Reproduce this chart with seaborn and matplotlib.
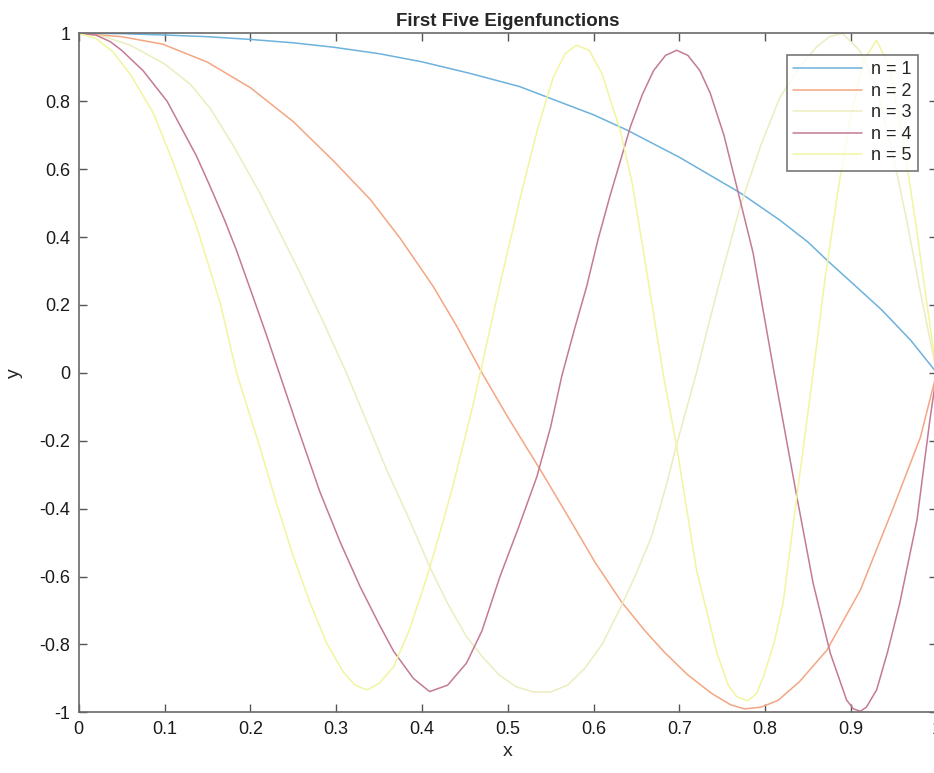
import matplotlib
matplotlib.use("Agg")
import matplotlib.pyplot as plt
import seaborn as sns
import pandas as pd

# ---- data ----
x_n1 = [0.0, 0.05, 0.1, 0.15, 0.2, 0.25, 0.297, 0.35, 0.4, 0.456, 0.514, 0.547, 0.6, 0.639, 0.7,
        0.771, 0.817, 0.85, 0.872, 0.91, 0.936, 0.97, 1.0]
y_n1 = [1.0, 0.999, 0.995, 0.99, 0.982, 0.972, 0.959, 0.94, 0.916, 0.882, 0.843, 0.811, 0.76, 0.715, 0.635,
        0.53, 0.45, 0.385, 0.332, 0.245, 0.185, 0.095, 0.0]

x_n2 = [0.0, 0.05, 0.098, 0.15, 0.2, 0.25, 0.297, 0.34, 0.375, 0.413, 0.44, 0.47, 0.5, 0.54, 0.572,
        0.602, 0.633, 0.66, 0.683, 0.71, 0.738, 0.76, 0.776, 0.795, 0.815, 0.84, 0.872, 0.911, 0.949,
        0.981, 1.0]
y_n2 = [1.0, 0.99, 0.968, 0.915, 0.84, 0.74, 0.624, 0.51, 0.395, 0.255, 0.14, 0.0, -0.13, -0.294, -0.43,
        -0.559, -0.676, -0.76, -0.824, -0.89, -0.945, -0.978, -0.99, -0.985, -0.965, -0.91, -0.817, -0.64, -0.40,
        -0.19, 0.0]

x_n3 = [0.0, 0.03, 0.06, 0.1, 0.13, 0.153, 0.18, 0.211, 0.235, 0.258, 0.285, 0.312, 0.335, 0.359, 0.385, 0.409,
        0.43, 0.452, 0.47, 0.49, 0.51, 0.53, 0.55, 0.57, 0.59, 0.61, 0.633, 0.65, 0.668, 0.685, 0.697, 0.72,
        0.745, 0.771, 0.795, 0.817, 0.84, 0.86, 0.875, 0.89, 0.91, 0.93, 0.95, 0.965, 0.98, 1.0]
y_n3 = [1.0, 0.99, 0.965, 0.91, 0.85, 0.78, 0.67, 0.53, 0.41, 0.294, 0.15, 0.0, -0.14, -0.286, -0.43, -0.571,
        -0.68, -0.777, -0.835, -0.89, -0.925, -0.94, -0.94, -0.92, -0.87, -0.8, -0.684, -0.59, -0.48, -0.33, -0.21, 0.0,
        0.25, 0.49, 0.67, 0.81, 0.9, 0.96, 0.99, 1.0, 0.95, 0.84, 0.63, 0.45, 0.25, 0.0]

x_n4 = [0.0, 0.02, 0.037, 0.05, 0.075, 0.103, 0.137, 0.153, 0.17, 0.184, 0.203, 0.219, 0.233, 0.255, 0.281,
        0.305, 0.328, 0.35, 0.367, 0.39, 0.409, 0.43, 0.452, 0.47, 0.491, 0.512, 0.534, 0.55, 0.563, 0.578,
        0.592, 0.605, 0.619, 0.632, 0.643, 0.657, 0.67, 0.684, 0.697, 0.71, 0.724, 0.736, 0.752, 0.767, 0.786,
        0.798, 0.81, 0.837, 0.856, 0.876, 0.895, 0.903, 0.911, 0.918, 0.93, 0.943, 0.957, 0.977, 0.992, 1.0]
y_n4 = [1.0, 0.995, 0.975, 0.95, 0.89, 0.80, 0.64, 0.55, 0.45, 0.36, 0.225, 0.11, 0.005, -0.16, -0.35,
        -0.5, -0.63, -0.74, -0.82, -0.9, -0.939, -0.92, -0.855, -0.76, -0.60, -0.46, -0.306, -0.16, -0.01, 0.13,
        0.254, 0.39, 0.519, 0.63, 0.725, 0.82, 0.89, 0.935, 0.95, 0.935, 0.89, 0.824, 0.7, 0.548, 0.353,
        0.18, 0.008, -0.365, -0.62, -0.826, -0.964, -0.99, -0.997, -0.985, -0.934, -0.82, -0.678, -0.434, -0.14, 0.0]

x_n5 = [0.0, 0.02, 0.04, 0.06, 0.087, 0.11, 0.1375, 0.165, 0.184, 0.211, 0.23, 0.25, 0.27, 0.289, 0.308,
        0.322, 0.336, 0.35, 0.367, 0.385, 0.406, 0.42, 0.436, 0.46, 0.468, 0.49, 0.514, 0.535, 0.553, 0.567,
        0.58, 0.595, 0.61, 0.631, 0.645, 0.66, 0.681, 0.697, 0.72, 0.744, 0.757, 0.767, 0.78, 0.79, 0.798,
        0.81, 0.821, 0.837, 0.856, 0.87, 0.887, 0.9, 0.915, 0.93, 0.945, 0.96, 0.975, 0.99, 1.0]
y_n5 = [1.0, 0.985, 0.945, 0.88, 0.765, 0.62, 0.43, 0.205, 0.0, -0.218, -0.38, -0.54, -0.68, -0.796, -0.88,
        -0.92, -0.934, -0.915, -0.866, -0.76, -0.60, -0.48, -0.335, -0.09, 0.0, 0.25, 0.509, 0.72, 0.87, 0.94,
        0.965, 0.95, 0.88, 0.715, 0.56, 0.33, 0.0, -0.218, -0.58, -0.826, -0.92, -0.954, -0.966, -0.945, -0.895,
        -0.8, -0.678, -0.365, 0.0, 0.28, 0.57, 0.76, 0.92, 0.98, 0.9, 0.7, 0.45, 0.18, 0.0]

series_labels = ["n = 1", "n = 2", "n = 3", "n = 4", "n = 5"]
x_ticks = [0, 0.1, 0.2, 0.3, 0.4, 0.5, 0.6, 0.7, 0.8, 0.9, 1]
x_tick_labels = ["0", "0.1", "0.2", "0.3", "0.4", "0.5", "0.6", "0.7", "0.8", "0.9", "1"]
y_ticks = [-1, -0.8, -0.6, -0.4, -0.2, 0, 0.2, 0.4, 0.6, 0.8, 1]
y_tick_labels = ["-1", "-0.8", "-0.6", "-0.4", "-0.2", "0", "0.2", "0.4", "0.6", "0.8", "1"]

colors = ["#6cb2dc", "#f4a682", "#ecedbf", "#c47a94", "#f2f59e"]

# ---- build long table ----
frames = []
for lab, xs, ys in zip(series_labels, [x_n1, x_n2, x_n3, x_n4, x_n5], [y_n1, y_n2, y_n3, y_n4, y_n5]):
    frames.append(pd.DataFrame({"x": xs, "y": ys, "n": lab}))
df = pd.concat(frames, ignore_index=True)

sns.set_style("ticks")
plt.rcParams["font.family"] = ["Liberation Sans", "DejaVu Sans"]

fig = plt.figure(figsize=(9.34, 7.73), dpi=100)
ax = fig.add_axes([78.7 / 934, 60.7 / 773, 858 / 934, 679 / 773])

sns.lineplot(data=df, x="x", y="y", hue="n", palette=colors, estimator=None,
             sort=False, linewidth=1.1, ax=ax, legend=True)

ax.set_xlim(0, 1)
ax.set_ylim(-1, 1)
ax.set_xticks(x_ticks)
ax.set_xticklabels(x_tick_labels)
ax.set_yticks(y_ticks)
ax.set_yticklabels(y_tick_labels)
ax.tick_params(direction="in", length=6, width=1, color="#555555", labelsize=13,
               labelcolor="#1a1a1a", top=True, right=True, pad=6)
for s in ax.spines.values():
    s.set_color("#6a6a6a")
    s.set_linewidth(1.2)

ax.set_title("First Five Eigenfunctions", fontsize=13.5, fontweight="bold", pad=5)
ax.set_xlabel("x", fontsize=14, labelpad=4)
ax.set_ylabel("y", fontsize=14, labelpad=12)

leg = ax.legend(loc="upper right", bbox_to_anchor=(0.978, 0.968), borderaxespad=0,
                fontsize=13, frameon=True, fancybox=False, handlelength=3.8,
                handletextpad=0.5, labelspacing=0.25, borderpad=0.35)
leg.get_frame().set_edgecolor("#555555")
leg.get_frame().set_linewidth(1.2)

fig.savefig("out.png", dpi=100)
